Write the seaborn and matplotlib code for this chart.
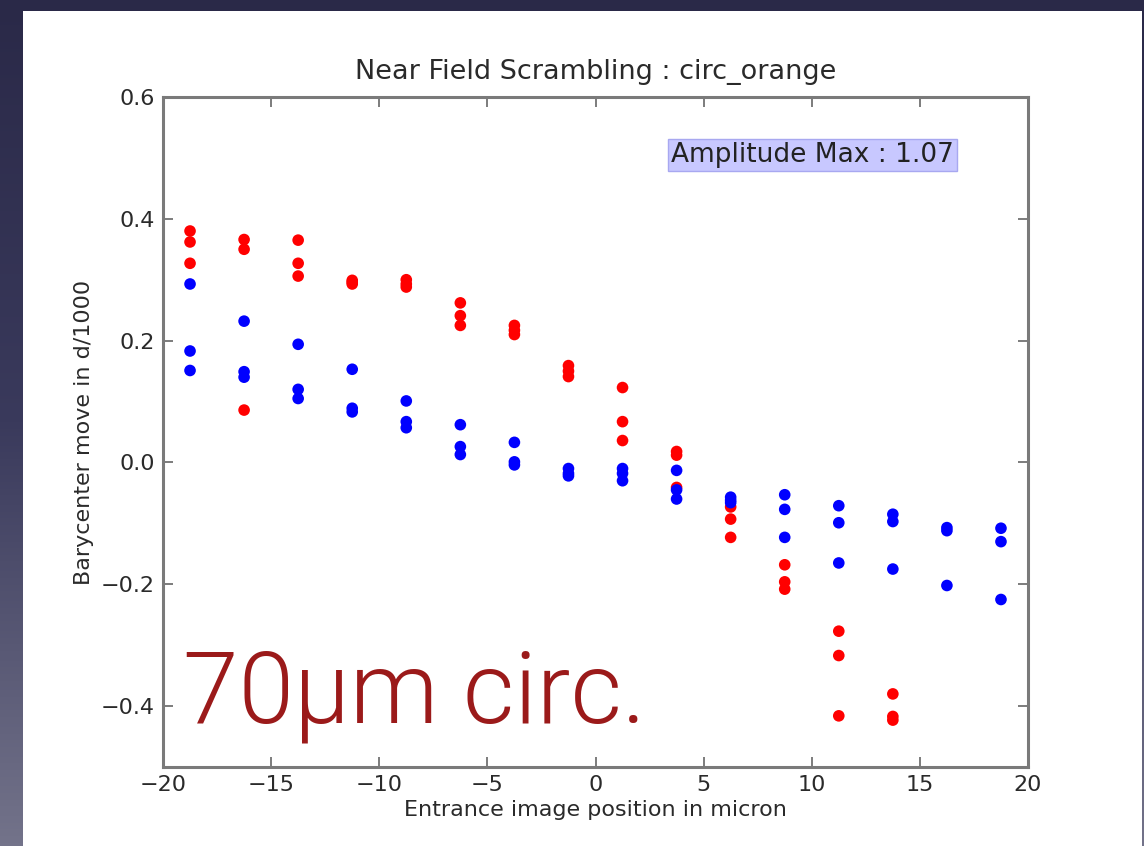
import numpy as np
import pandas as pd
import matplotlib
matplotlib.use("Agg")
import matplotlib.pyplot as plt
from matplotlib.patches import Rectangle
from matplotlib.colors import LinearSegmentedColormap
import seaborn as sns

# Entrance image positions (micron)
positions = [-18.75, -16.25, -13.75, -11.25, -8.75, -6.25, -3.75, -1.25,
             1.25, 3.75, 6.25, 8.75, 11.25, 13.75, 16.25, 18.75]

# Red series: three runs per position (first 14 positions)
red_run1 = [0.380, 0.366, 0.365, 0.299, 0.300, 0.262, 0.225, 0.159,
            0.123, 0.018, -0.073, -0.168, -0.277, -0.380]
red_run2 = [0.362, 0.350, 0.327, 0.296, 0.293, 0.241, 0.217, 0.150,
            0.067, 0.012, -0.093, -0.196, -0.317, -0.417]
red_run3 = [0.327, 0.086, 0.306, 0.293, 0.288, 0.225, 0.210, 0.141,
            0.036, -0.041, -0.123, -0.208, -0.416, -0.423]

# Blue series: three runs per position (all 16 positions)
blue_run1 = [0.293, 0.232, 0.194, 0.153, 0.101, 0.062, 0.033, -0.010,
             -0.010, -0.013, -0.057, -0.053, -0.071, -0.085, -0.107, -0.108]
blue_run2 = [0.183, 0.149, 0.120, 0.089, 0.067, 0.026, 0.001, -0.018,
             -0.018, -0.045, -0.062, -0.077, -0.099, -0.097, -0.112, -0.130]
blue_run3 = [0.151, 0.140, 0.105, 0.083, 0.057, 0.013, -0.004, -0.022,
             -0.030, -0.060, -0.066, -0.123, -0.165, -0.175, -0.202, -0.225]

title = "Near Field Scrambling : circ_orange"
xlabel = "Entrance image position in micron"
ylabel = "Barycenter move in d/1000"
amplitude_text = "Amplitude Max : 1.07"
big_label = "70\u00b5m circ."
xticks = [-20, -15, -10, -5, 0, 5, 10, 15, 20]
yticks = [-0.4, -0.2, 0.0, 0.2, 0.4, 0.6]

rows = []
for runs, name in (((red_run1, red_run2, red_run3), "red"),
                   ((blue_run1, blue_run2, blue_run3), "blue")):
    for run in runs:
        for x, y in zip(positions, run):
            rows.append({"x": x, "y": y, "series": name})
df = pd.DataFrame(rows)

sns.set_theme(style="white")
plt.rcParams["font.family"] = ["DejaVu Sans"]

W, H = 1144, 846
fig = plt.figure(figsize=(W / 100, H / 100), dpi=100)

# slide background: dark gradient with a white panel
bg = fig.add_axes([0, 0, 1, 1], zorder=-10)
cmap = LinearSegmentedColormap.from_list("slide", ["#2a2948", "#3a3a5c", "#73738a"])
grad = np.linspace(0, 1, 256).reshape(-1, 1)
bg.imshow(grad, aspect="auto", cmap=cmap, extent=[0, 1, 0, 1], origin="upper")
bg.add_patch(Rectangle((23 / W, 0), (1142 - 23) / W, (H - 11) / H,
                       transform=bg.transAxes, facecolor="white", edgecolor="none"))
bg.set_xlim(0, 1)
bg.set_ylim(0, 1)
bg.axis("off")

ax = fig.add_axes([163 / W, 1 - 767 / H, (1028 - 163) / W, (767 - 97) / H])
ax.set_facecolor("white")

sns.scatterplot(data=df, x="x", y="y", hue="series",
                palette={"red": "#ff0000", "blue": "#0000ff"},
                s=70, linewidth=0, legend=False, ax=ax)

ax.set_xlim(-20, 20)
ax.set_ylim(-0.5, 0.6)
ax.set_xticks(xticks)
ax.set_yticks(yticks)
ax.set_xticklabels([f"\u2212{abs(t)}" if t < 0 else f"{t}" for t in xticks])
ax.set_yticklabels([f"\u2212{abs(t):.1f}" if t < 0 else f"{t:.1f}" for t in yticks])
ax.tick_params(direction="in", length=7, width=1.2, color="#666666",
               labelsize=16, labelcolor="#2a2a2a", top=True, right=True,
               bottom=True, left=True, pad=6)
for sp in ax.spines.values():
    sp.set_color("#7a7a7a")
    sp.set_linewidth(2.2)

ax.set_title(title, fontsize=19.5, color="#2a2a2a", pad=13)
ax.set_xlabel(xlabel, fontsize=16, color="#2a2a2a", labelpad=3)
ax.set_ylabel(ylabel, fontsize=16, color="#2a2a2a", labelpad=5)

ax.text(3.5, 0.505, amplitude_text, fontsize=19, color="#222222",
        va="center", ha="left",
        bbox=dict(boxstyle="square,pad=0.12", facecolor="#c8c8ff",
                  edgecolor="#a8a8f0", linewidth=1.0))

fig.text(183 / W, 1 - 722 / H, big_label, fontsize=72, color="#9b1a1a",
         family=["Roboto", "DejaVu Sans"], fontweight=300,
         ha="left", va="baseline")

fig.savefig("out.png", dpi=100)
